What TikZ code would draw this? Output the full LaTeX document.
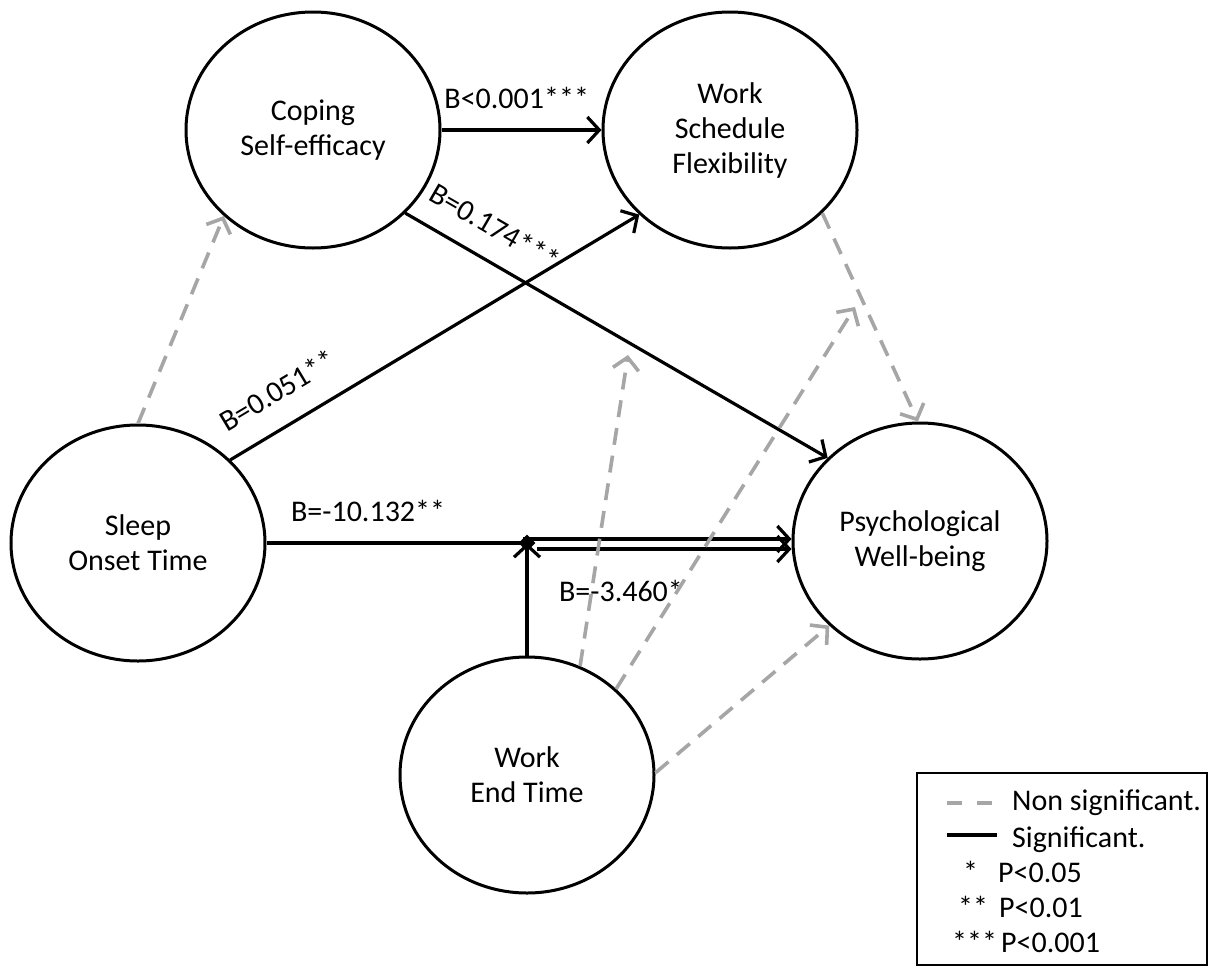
\documentclass[tikz,border=0pt]{standalone}
\usepackage{fontspec}
\setmainfont{Carlito}
\usetikzlibrary{shapes.geometric,arrows.meta,calc}
\definecolor{dgray}{HTML}{A6A6A6}
\tikzset{
 var/.style={ellipse, draw, line width=3pt, minimum width=254pt, minimum height=236pt, inner sep=0pt, align=center, font=\fontsize{30}{35}\selectfont},
 sig/.style={line width=3.2pt, line join=round, -{Straight Barb[length=12pt,width=26pt]}},
 sigline/.style={line width=3.2pt},
 nsig/.style={line width=3.6pt, dgray, dash pattern=on 17pt off 11pt, line join=round, -{Straight Barb[length=12pt,width=26pt]}},
 lab/.style={font=\fontsize{30}{35}\selectfont, inner sep=2pt},
 legtext/.style={font=\fontsize{30}{35}\selectfont, inner sep=0pt, anchor=base west},
}
\begin{document}
\begin{tikzpicture}[x=1pt,y=-1pt]
\useasboundingbox (0,0) rectangle (1211,967);
% variables
\node[var] (cop) at (313,130) {Coping\\Self-efficacy};
\node[var] (wsf) at (730,130) {Work\\Schedule\\Flexibility};
\node[var] (sot) at (138,543) {Sleep\\Onset Time};
\node[var] (pwb) at (920,541) {Psychological\\Well-being};
\node[var] (wet) at (527,775) {Work\\End Time};
% helper coordinates
\coordinate (J) at (527,543);
\coordinate (Ju) at (523,539);
\coordinate (Jl) at (537,549);
\coordinate (M1) at (628,355);
\coordinate (M2) at (855,307);
% significant paths
\draw[sig] (cop.east) -- node[lab, pos=0.47, above=18pt] (l1) {B<0.001***} (wsf.west);
\draw[sig] (cop.-42.7) -- node[lab, sloped, pos=0.173, above=19pt] (l2) {B=0.174***} (pwb.138.6);
\draw[sig] (sot.42) -- node[lab, sloped, pos=0.16, above=21pt] (l3) {B=0.051**} (wsf.-137.3);
\draw[sigline] (sot.east) -- node[lab, pos=0.39, above=18pt] (l4) {B=-10.132**} (J);
\draw[sig] (wet.north) -- (J);
\draw[sig] (Ju) -- (Ju -| pwb.west);
\draw[sig] (Jl) -- node[lab, pos=0.33, below=28pt] (l5) {B=-3.460*} (Jl -| pwb.west);
\node[diamond, fill=black, inner sep=0pt, minimum size=17pt] (jdot) at (J) {};
% non significant paths
\draw[nsig] (sot.90) -- (cop.224);
\draw[nsig] (wsf.-42.7) -- (pwb.91);
\draw[nsig] (wet.64) -- (M1);
\draw[nsig] (wet.44) -- (M2);
\draw[nsig] (wet.1) -- (pwb.223.4);
% legend
\node[draw, line width=2.7pt, minimum width=290pt, minimum height=192pt, inner sep=0pt] (leg) at (1062,869) {};
\coordinate (ns1) at (947,803);
\coordinate (ns2) at (992,803);
\coordinate (s1) at (947,835);
\coordinate (s2) at (997,835);
\draw[line width=3.6pt, dgray, dash pattern=on 15pt off 15pt] (ns1) -- (ns2);
\draw[line width=3.6pt] (s1) -- (s2);
\node[legtext] (t1) at (1012,810) {Non significant.};
\node[legtext] (t2) at (1012,847) {Significant.};
\node[legtext] (t3a) at (963,882) {*};
\node[legtext] (t3b) at (998,882) {P<0.05};
\node[legtext] (t4a) at (958,917) {**};
\node[legtext] (t4b) at (999,917) {P<0.01};
\node[legtext] (t5a) at (952,952) {***};
\node[legtext] (t5b) at (1001,952) {P<0.001};
\end{tikzpicture}
\end{document}
